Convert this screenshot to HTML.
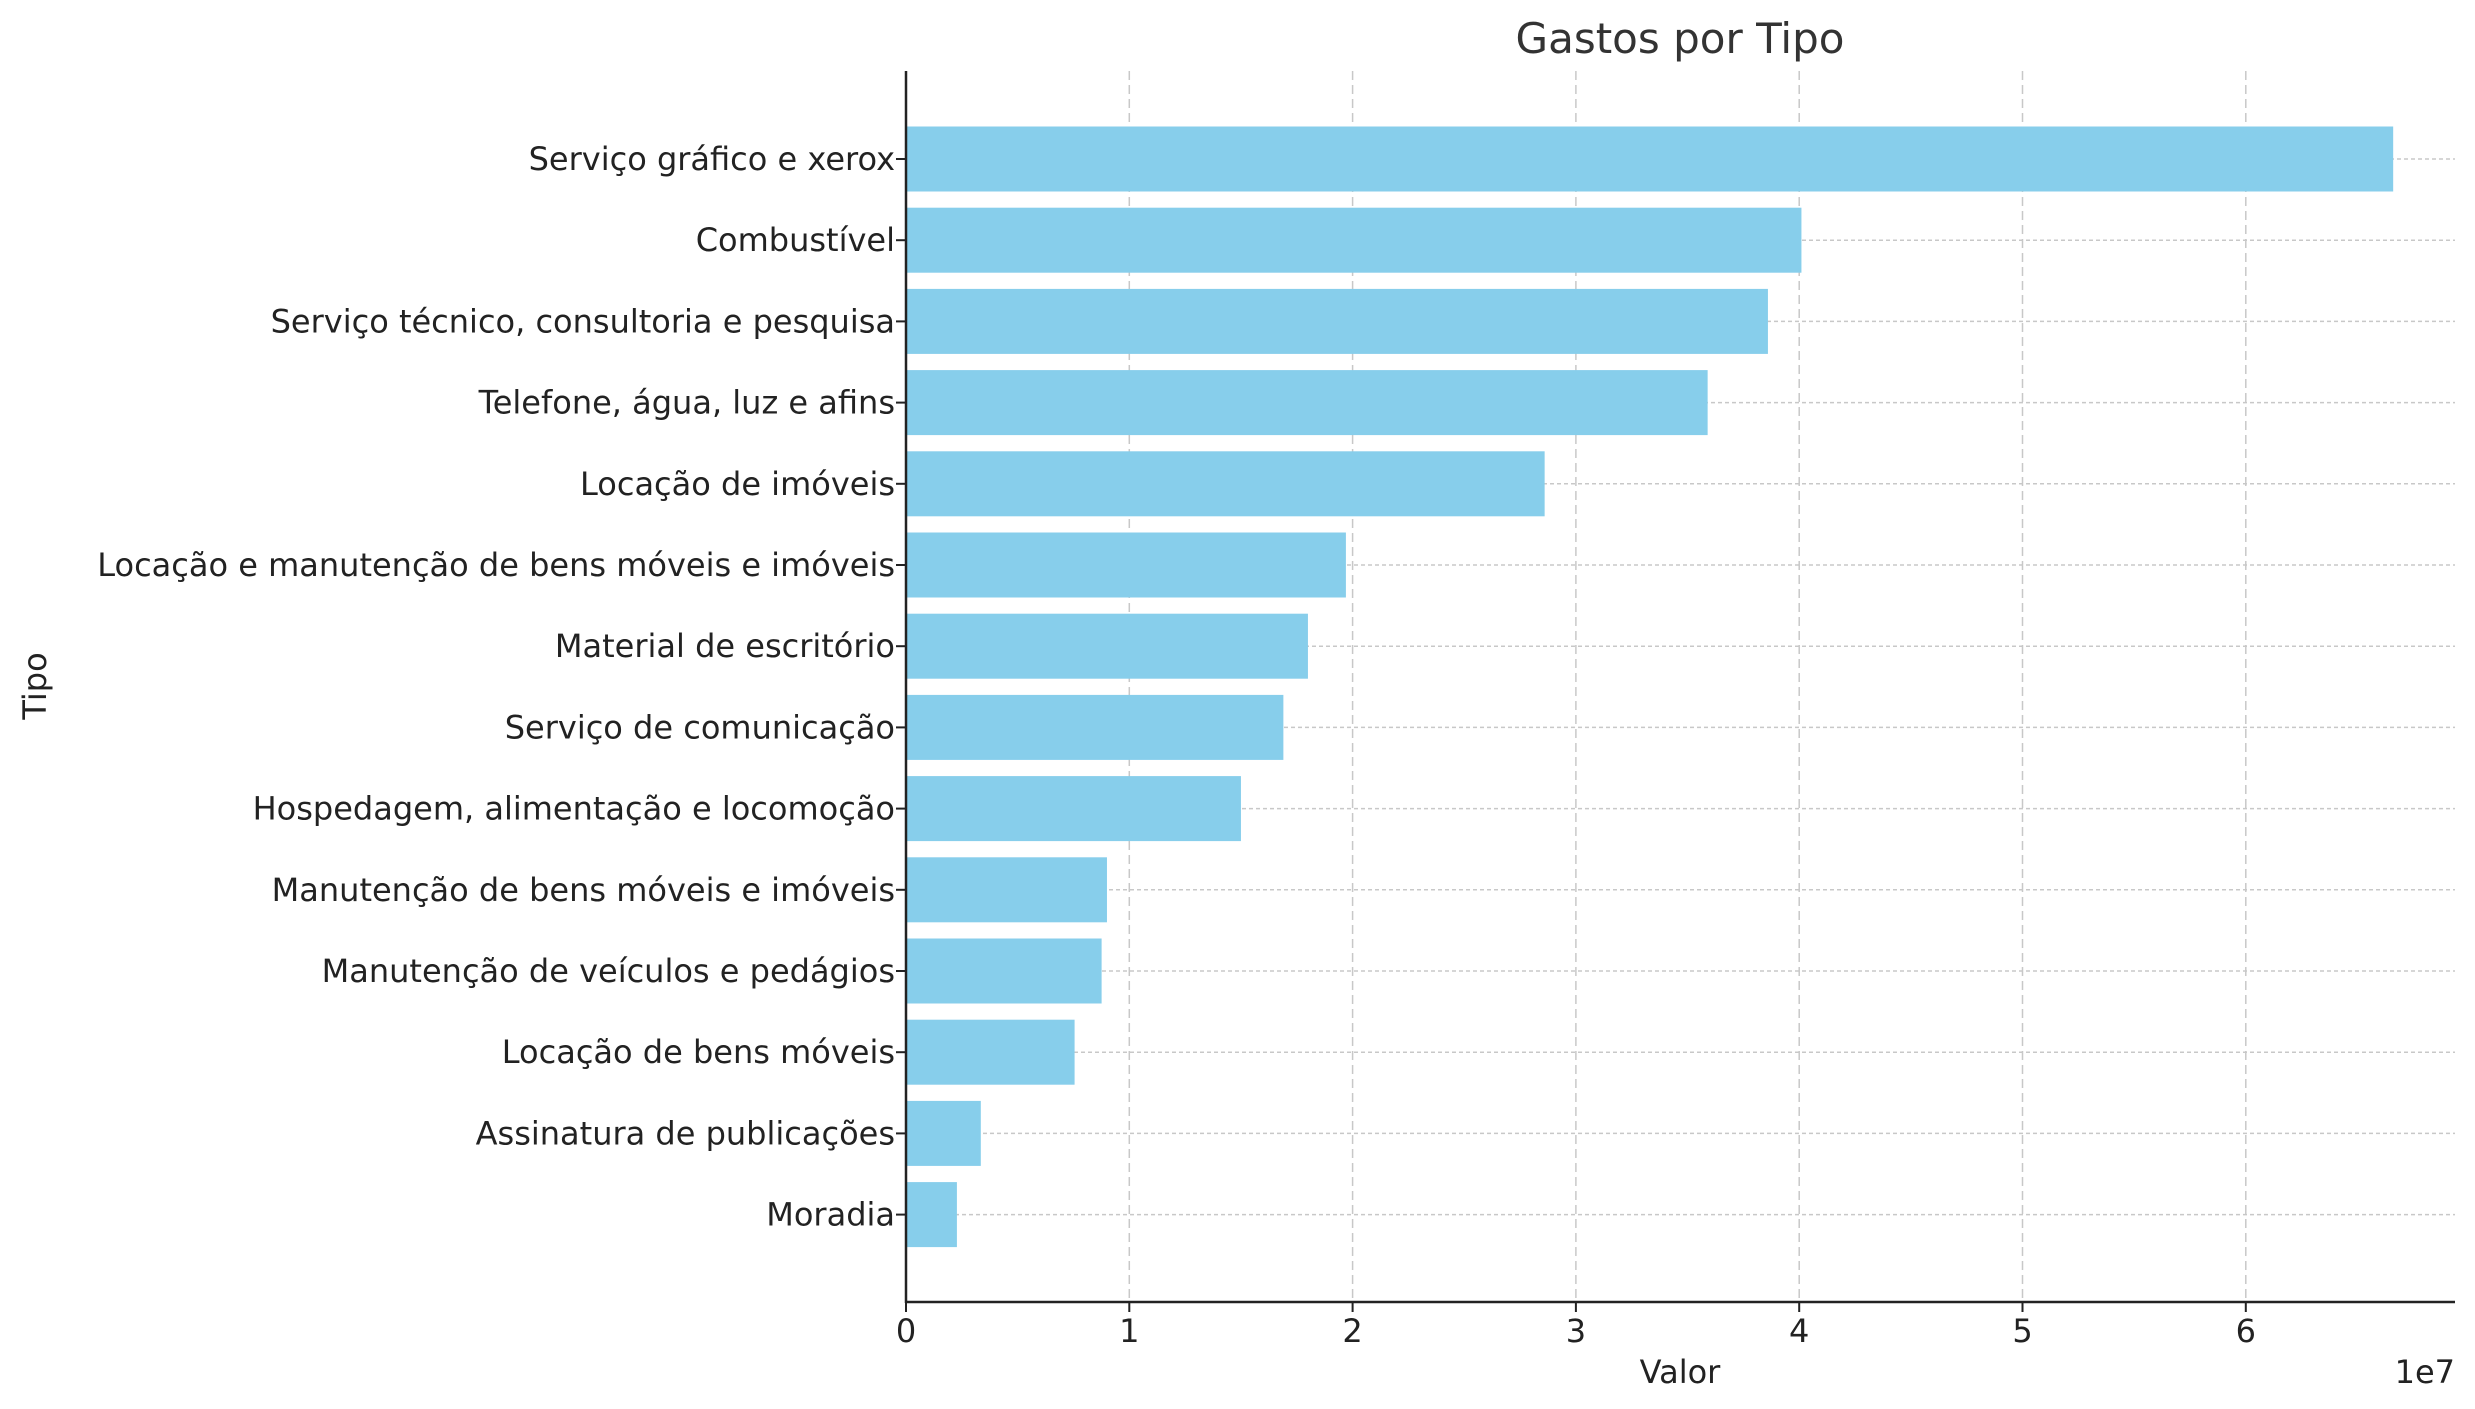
<!DOCTYPE html>
<html><head><meta charset="utf-8"><style>
html,body{margin:0;padding:0;background:#fff;}
svg{display:block;font-family:"DejaVu Sans","Liberation Sans",sans-serif;}
</style></head><body>
<svg id="chart" width="2475" height="1409" viewBox="0 0 2475 1409">
<text x="1680" y="53" text-anchor="middle" font-size="42" fill="#333">Gastos por Tipo</text>
<g id="grid"></g>
<g id="bars"></g>
<g id="axes"></g>
<text x="1680" y="1383" text-anchor="middle" font-size="32" fill="#222">Valor</text>
<text x="2455" y="1383" text-anchor="end" font-size="32" fill="#222">1e7</text>
<text transform="translate(46,686) rotate(-90)" text-anchor="middle" font-size="32" fill="#222">Tipo</text>
</svg>
<script>
const categories = ["Serviço gráfico e xerox","Combustível","Serviço técnico, consultoria e pesquisa","Telefone, água, luz e afins","Locação de imóveis","Locação e manutenção de bens móveis e imóveis","Material de escritório","Serviço de comunicação","Hospedagem, alimentação e locomoção","Manutenção de bens móveis e imóveis","Manutenção de veículos e pedágios","Locação de bens móveis","Assinatura de publicações","Moradia"];
const values = [66600000,40100000,38600000,35900000,28600000,19700000,18000000,16900000,15000000,9000000,8760000,7550000,3350000,2280000];
const xTicks = [0,1,2,3,4,5,6];
const xTickLabels = ["0","1","2","3","4","5","6"];

const NS="http://www.w3.org/2000/svg";
const X0=906, PXPER1E7=223.3, AX_TOP=71, AX_BOT=1302, AX_RIGHT=2455;
const Y_FIRST=159, STEP=81.2, BAR_H=65;
const xs=v=>X0+v/1e7*PXPER1E7;
const ys=i=>Y_FIRST+i*STEP;
function mk(tag,attrs,parent){const e=document.createElementNS(NS,tag);for(const k in attrs)e.setAttribute(k,attrs[k]);parent.appendChild(e);return e;}
const grid=document.getElementById('grid'),bars=document.getElementById('bars'),axes=document.getElementById('axes');
xTicks.forEach((t,i)=>{
  const x=xs(t*1e7);
  const g=mk('line',{x1:x,x2:x,y1:AX_TOP,y2:AX_BOT,stroke:'#c8c8c8','stroke-width':1.5,'stroke-dasharray':'9,5'},grid);
  
  
  const tk=mk('line',{x1:x,x2:x,y1:AX_BOT,y2:AX_BOT+10,stroke:'#222','stroke-width':2},axes);
  
  
  const tl=mk('text',{x:x,y:1342,'text-anchor':'middle','font-size':32,fill:'#222'},axes);
  tl.textContent=xTickLabels[i];
  
  
});
categories.forEach((c,i)=>{
  const y=ys(i);
  const gl=mk('line',{x1:X0,x2:AX_RIGHT,y1:y,y2:y,stroke:'#c8c8c8','stroke-width':1.5,'stroke-dasharray':'4,3'},grid);
  
  
  const r=mk('rect',{x:X0,y:y-BAR_H/2,width:xs(values[i])-X0,height:BAR_H,fill:'#87ceeb'},bars);
  
  
  const tk=mk('line',{x1:X0-10,x2:X0,y1:y,y2:y,stroke:'#222','stroke-width':2},axes);
  
  
  const tl=mk('text',{x:895,y:y+11,'text-anchor':'end','font-size':32,fill:'#222'},axes);
  tl.textContent=c;
  
  
});
const la=mk('line',{x1:X0,x2:X0,y1:AX_TOP,y2:AX_BOT+1,stroke:'#222','stroke-width':2.5},axes);


const lb=mk('line',{x1:X0-1,x2:AX_RIGHT,y1:AX_BOT,y2:AX_BOT,stroke:'#222','stroke-width':2.5},axes);


</script>
</body></html>
